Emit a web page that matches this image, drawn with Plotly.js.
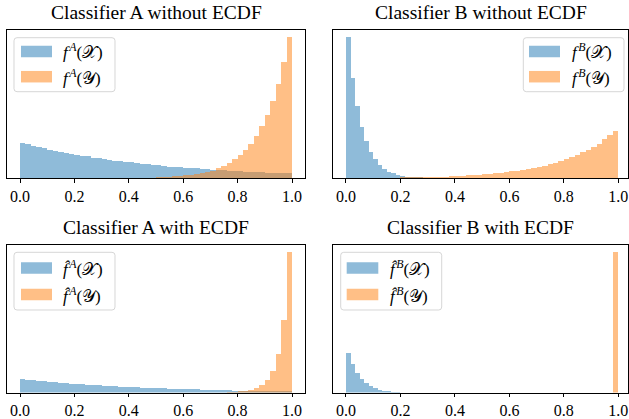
<!DOCTYPE html>
<html><head><meta charset="utf-8">
<script src="https://cdn.plot.ly/plotly-3.0.1.min.js"></script>
<style>html,body{margin:0;padding:0;overflow:hidden;background:#fff}</style>
</head><body><div id="chart" style="width:629px;height:419px"></div>
<script>
// ---------------- data ----------------
const bins50 = [0.01,0.03,0.05,0.07,0.09,0.11,0.13,0.15,0.17,0.19,0.21,0.23,0.25,0.27,0.29,0.31,0.33,0.35,0.37,0.39,0.41,0.43,0.45,0.47,0.49,0.51,0.53,0.55,0.57,0.59,0.61,0.63,0.65,0.67,0.69,0.71,0.73,0.75,0.77,0.79,0.81,0.83,0.85,0.87,0.89,0.91,0.93,0.95,0.97,0.99];
const bins60 = [0.0083,0.025,0.0417,0.0583,0.075,0.0917,0.1083,0.125,0.1417,0.1583,0.175,0.1917,0.2083,0.225,0.2417,0.2583,0.275,0.2917];

const aTopBlue = [2.33,2.27,2.15,2.07,2.00,1.87,1.80,1.73,1.67,1.60,1.53,1.47,1.45,1.35,1.33,1.27,1.20,1.15,1.12,1.08,1.05,1.00,0.95,0.92,0.88,0.85,0.80,0.76,0.74,0.72,0.68,0.66,0.64,0.62,0.60,0.53,0.52,0.51,0.50,0.49,0.47,0.41,0.40,0.40,0.39,0.32,0.31,0.31,0.31,0.31];
const aTopOrange = [0,0,0,0,0,0,0,0,0,0,0,0,0,0,0,0,0,0,0,0,0,0,0,0,0,0.05,0.07,0.08,0.12,0.15,0.18,0.20,0.24,0.31,0.39,0.50,0.65,0.80,1.00,1.25,1.53,1.87,2.27,2.80,3.47,4.20,5.15,6.27,7.73,9.40];

const bTopBlue = [16.2,11.5,8.28,5.86,4.25,2.99,2.18,1.49,1.03,0.69,0.54,0.34,0.23,0.17,0.11,0.08,0.06,0.03];
const bTopOrange = [0,0,0,0,0,0,0,0,0,0,0.08,0.08,0.09,0.10,0.11,0.12,0.13,0.15,0.17,0.19,0.22,0.26,0.30,0.34,0.39,0.44,0.49,0.55,0.61,0.68,0.75,0.82,0.91,1.00,1.12,1.24,1.38,1.56,1.74,1.95,2.18,2.41,2.64,2.99,3.25,3.56,3.91,4.48,4.94,5.40];

const aBotBlue = [2.33,2.19,2.16,2.02,1.98,1.84,1.81,1.67,1.63,1.49,1.46,1.44,1.32,1.28,1.26,1.14,1.11,1.09,1.05,0.96,0.93,0.91,0.82,0.79,0.76,0.75,0.74,0.70,0.61,0.58,0.58,0.58,0.58,0.53,0.53,0.53,0.53,0.53,0.52,0.35,0.35,0.26,0.26,0.26,0.26,0.26,0.26,0.26,0.26,0.26];
const aBotOrange = [0,0,0,0,0,0,0,0,0,0,0,0,0,0,0,0,0,0,0,0,0,0,0,0,0,0,0,0,0,0,0,0,0,0,0,0,0,0,0.05,0.09,0.18,0.30,0.53,0.88,1.40,2.28,3.86,6.72,12.81,24.79];

const bBotBlue = [14.2,10.2,7.0,4.9,3.5,2.4,1.6,0.96,0.64,0.36,0.28,0.18];
const bBotOrange = [0,0,0,0,0,0,0,0,0,0,0,0,0,0,0,0,0,0,0,0,0,0,0,0,0,0,0,0,0,0,0,0,0,0,0,0,0,0,0,0,0,0,0,0,0,0,0,0,0,50];

const titles = ['Classifier A without ECDF','Classifier B without ECDF','Classifier A with ECDF','Classifier B with ECDF'];
const labelsX = ['<i>f</i>\u200A<sup><i>A</i></sup>(𝒳)','<i>f</i>\u200A<sup><i>B</i></sup>(𝒳)','<i>f̂</i>\u200A<sup><i>A</i></sup>(𝒳)','<i>f̂</i>\u200A<sup><i>B</i></sup>(𝒳)'];
const labelsY = ['<i>f</i>\u200A<sup><i>A</i></sup>(𝒴)','<i>f</i>\u200A<sup><i>B</i></sup>(𝒴)','<i>f̂</i>\u200A<sup><i>A</i></sup>(𝒴)','<i>f̂</i>\u200A<sup><i>B</i></sup>(𝒴)'];
const tickVals = [0,0.2,0.4,0.6,0.8,1.0];
const tickText = ['0.0','0.2','0.4','0.6','0.8','1.0'];

// ---------------- layout helpers ----------------
const W = 629, H = 419;
const FONT = '"Liberation Serif", serif';
const BLUE = 'rgba(31,119,180,0.5)';
const ORANGE = 'rgba(255,127,14,0.5)';
const px = v => v / W;
const py = v => 1 - v / H;

const panels = [
  {x0:7, x1:305, y0:30, y1:178, xr:[-0.0478,1.0478], leg:{bx0:14,bx1:115,by0:37.7,by1:91.7,px0:21,px1:52,lx:61,c1:51.5,c2:76.7}},
  {x0:333, x1:628, y0:30, y1:178, xr:[-0.0477,1.0356], leg:{bx0:523.3,bx1:624,by0:37.7,by1:91.7,px0:529,px1:560,lx:570,c1:51.5,c2:76.7}},
  {x0:7, x1:305, y0:245, y1:392.5, xr:[-0.0478,1.0478], leg:{bx0:14,bx1:115,by0:252.3,by1:310,px0:21,px1:52,lx:61,c1:268,c2:294.5}},
  {x0:333, x1:628, y0:245, y1:392.5, xr:[-0.0477,1.0356], leg:{bx0:340.7,bx1:441.7,by0:252.3,by1:310,px0:346.7,px1:378.3,lx:388,c1:268,c2:294.5}}
];

const series = [
  {bx:bins50, by:aTopBlue, bw:0.02, ox:bins50, oy:aTopOrange, ow:0.02},
  {bx:bins60, by:bTopBlue, bw:1/60, ox:bins50, oy:bTopOrange, ow:0.02},
  {bx:bins50, by:aBotBlue, bw:0.02, ox:bins50, oy:aBotOrange, ow:0.02},
  {bx:bins60, by:bBotBlue, bw:1/60, ox:bins50, oy:bBotOrange, ow:0.02}
];

const data = [];
const layout = {
  width: W, height: H,
  margin: {l:0, r:0, t:0, b:0},
  paper_bgcolor: '#fff', plot_bgcolor: '#fff',
  barmode: 'overlay', bargap: 0,
  showlegend: false,
  font: {family: FONT, color: '#000', size: 16},
  shapes: [], annotations: []
};

function roundRect(x0, y0, x1, y1, r) {
  const P = (x, y) => px(x).toFixed(5) + ',' + py(y).toFixed(5);
  return 'M' + P(x0 + r, y0) + ' L' + P(x1 - r, y0) + ' Q' + P(x1, y0) + ' ' + P(x1, y0 + r) +
         ' L' + P(x1, y1 - r) + ' Q' + P(x1, y1) + ' ' + P(x1 - r, y1) +
         ' L' + P(x0 + r, y1) + ' Q' + P(x0, y1) + ' ' + P(x0, y1 - r) +
         ' L' + P(x0, y0 + r) + ' Q' + P(x0, y0) + ' ' + P(x0 + r, y0) + ' Z';
}

panels.forEach((p, i) => {
  const s = series[i];
  const n = i + 1;
  const xa = n === 1 ? 'x' : 'x' + n;
  const ya = n === 1 ? 'y' : 'y' + n;
  data.push({type:'bar', x:s.bx, y:s.by, width:s.bw, xaxis:xa, yaxis:ya,
             marker:{color:BLUE, line:{width:0}}, hoverinfo:'skip'});
  data.push({type:'bar', x:s.ox, y:s.oy, width:s.ow, xaxis:xa, yaxis:ya,
             marker:{color:ORANGE, line:{width:0}}, hoverinfo:'skip'});
  const ymax = Math.max(...s.by, ...s.oy) * 1.0515;
  const xk = n === 1 ? 'xaxis' : 'xaxis' + n;
  const yk = n === 1 ? 'yaxis' : 'yaxis' + n;
  layout[xk] = {
    domain: [px(p.x0), px(p.x1)], anchor: ya, range: p.xr,
    showgrid: false, zeroline: false, showline: true, mirror: true,
    linecolor: '#000', linewidth: 1,
    ticks: 'outside', ticklen: 3.5, tickwidth: 1, tickcolor: '#000',
    tickvals: tickVals, ticktext: tickText,
    tickfont: {family: FONT, size: 16, color: '#000'}
  };
  layout[yk] = {
    domain: [py(p.y1), py(p.y0)], anchor: xa, range: [0, ymax],
    showgrid: false, zeroline: false, showline: true, mirror: true,
    linecolor: '#000', linewidth: 1, showticklabels: false, ticks: ''
  };
  layout.annotations.push({
    text: titles[i], xref:'paper', yref:'paper',
    x: px((p.x0 + p.x1) / 2), y: py(p.y0 - 5), xanchor:'center', yanchor:'bottom',
    showarrow:false, font:{family:FONT, size:19.5, color:'#000'}
  });
  const L = p.leg;
  layout.shapes.push({type:'path', xref:'paper', yref:'paper', path: roundRect(L.bx0, L.by0, L.bx1, L.by1, 3),
    fillcolor:'rgba(255,255,255,0.8)', line:{color:'rgba(204,204,204,0.8)', width:1}});
  const ph = 11.5;
  layout.shapes.push({type:'rect', xref:'paper', yref:'paper', x0:px(L.px0), x1:px(L.px1), y0:py(L.c1 - ph/2), y1:py(L.c1 + ph/2),
    fillcolor:BLUE, line:{width:0}});
  layout.shapes.push({type:'rect', xref:'paper', yref:'paper', x0:px(L.px0), x1:px(L.px1), y0:py(L.c2 - ph/2), y1:py(L.c2 + ph/2),
    fillcolor:ORANGE, line:{width:0}});
  layout.annotations.push({text: labelsX[i], xref:'paper', yref:'paper', x:px(L.lx), y:py(L.c1),
    xanchor:'left', yanchor:'middle', showarrow:false, font:{family:FONT, size:17, color:'#000'}});
  layout.annotations.push({text: labelsY[i], xref:'paper', yref:'paper', x:px(L.lx), y:py(L.c2),
    xanchor:'left', yanchor:'middle', showarrow:false, font:{family:FONT, size:17, color:'#000'}});
});

Plotly.newPlot('chart', data, layout, {displayModeBar: false});
</script></body></html>
